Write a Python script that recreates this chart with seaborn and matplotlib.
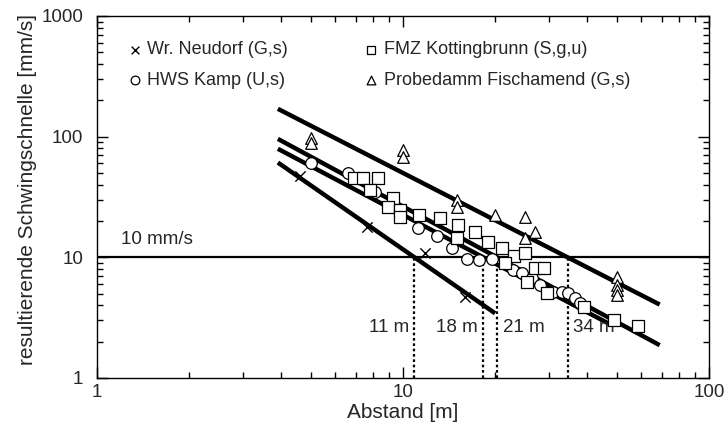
import numpy as np
import pandas as pd
import matplotlib
matplotlib.use("Agg")
import matplotlib.pyplot as plt
from matplotlib.ticker import LogLocator, FuncFormatter, NullFormatter
import seaborn as sns

# ---------------- data ----------------
neudorf_d = [4.6, 7.6, 11.8, 16.0]
neudorf_v = [47, 18, 10.9, 4.7]

kamp_d = [5.0, 6.6, 8.1, 11.2, 12.9, 14.5, 16.2, 17.7, 19.5, 22.9, 24.5, 26.4,
          28.0, 30.9, 33.0, 34.6, 36.5, 38.0]
kamp_v = [61, 50, 35, 17.6, 15.1, 12.0, 9.7, 9.5, 9.7, 7.9, 7.4, 6.8,
          5.9, 5.2, 5.2, 5.1, 4.6, 4.2]

kotting_d = [6.9, 7.4, 8.3, 7.8, 9.3, 8.9, 9.8, 9.8, 11.3, 13.2, 15.1, 17.2,
             15.0, 19.0, 21.0, 23.0, 25.0, 21.6, 27.0, 29.0, 25.4, 29.5,
             39.0, 49.0, 58.6]
kotting_v = [45.7, 45.7, 45.7, 36, 31, 26, 24.5, 21.5, 22.5, 21.2, 18.6, 16.3,
             14.5, 13.4, 12.0, 10.3, 10.9, 9.0, 8.2, 8.2, 6.3, 5.1,
             3.9, 3.0, 2.7]

probe_d = [5, 5, 10, 10, 15, 15, 20, 25, 27, 25, 50, 50, 50, 50]
probe_v = [98, 89, 78, 68, 30, 26, 22.5, 21.7, 16.3, 14.5, 6.9, 5.9, 5.4, 4.9]

site_labels = ["Wr. Neudorf (G,s)", "HWS Kamp (U,s)",
               "FMZ Kottingbrunn (S,g,u)", "Probedamm Fischamend (G,s)"]

# regression lines v = 10 * (d / d10) ** (-b)
line_d10 = [10.9, 18.3, 20.3, 34.5]
line_b = [1.76, 1.34, 1.37, 1.30]
line_start = [3.9, 3.9, 3.9, 3.9]
line_end = [20, 48, 69, 69]

limit_v = 10
limit_label = "10 mm/s"
cross_labels = ["11 m", "18 m", "21 m", "34 m"]

x_ticks = [1, 10, 100]
y_ticks = [1, 10, 100, 1000]

# ---------------- plot ----------------
sns.set_style("ticks")
plt.rcParams["font.family"] = ["Liberation Sans", "DejaVu Sans"]

fig = plt.figure(figsize=(7.25, 4.26), dpi=100)
ax = fig.add_axes([97 / 725, 1 - 378 / 426, 612 / 725, 362 / 426])
ax.set_xscale("log")
ax.set_yscale("log")

# limit line and crossing markers
ax.axhline(limit_v, color="black", lw=1.6, zorder=1)
ax.text(1.2, 14, limit_label, fontsize=13.5, va="center", ha="left")
ax.vlines(line_d10, 1, limit_v, colors="black", lw=1.6,
          linestyles=(0, (1.2, 1.2)), zorder=1)
for d, lab in zip(line_d10, cross_labels):
    right = d < 19
    ax.annotate(lab, xy=(d, 2.6), xytext=(-4 if right else 4, 0),
                textcoords="offset points", fontsize=13.5, va="center",
                ha="right" if right else "left")

# regression lines
for d10, b, d0, d1 in zip(line_d10, line_b, line_start, line_end):
    dd = np.array([d0, d1])
    vv = limit_v * (dd / d10) ** (-b)
    sns.lineplot(x=dd, y=vv, color="black", lw=3.2, ax=ax, zorder=2,
                 solid_capstyle="butt")

# scatter
sns.scatterplot(x=neudorf_d, y=neudorf_v, marker="x", color="black", s=55,
                linewidth=1.0, ax=ax, label=site_labels[0], zorder=3)
sns.scatterplot(x=kamp_d, y=kamp_v, marker="o", facecolor="white",
                edgecolor="black", s=70, linewidth=0.9, ax=ax,
                label=site_labels[1], zorder=3)
sns.scatterplot(x=kotting_d, y=kotting_v, marker="s", facecolor="white",
                edgecolor="black", s=65, linewidth=0.9, ax=ax,
                label=site_labels[2], zorder=4)
sns.scatterplot(x=probe_d, y=probe_v, marker="^", facecolor="white",
                edgecolor="black", s=70, linewidth=0.9, ax=ax,
                label=site_labels[3], zorder=4)

ax.set_xlim(1, 100)
ax.set_ylim(1, 1000)
ax.xaxis.set_minor_locator(LogLocator(base=10, subs=np.arange(2, 10), numticks=20))
ax.yaxis.set_minor_locator(LogLocator(base=10, subs=np.arange(2, 10), numticks=20))
ax.set_xticks(x_ticks)
ax.set_yticks(y_ticks)
fmt = FuncFormatter(lambda v, p: f"{v:g}")
ax.xaxis.set_major_formatter(fmt)
ax.yaxis.set_major_formatter(fmt)
ax.xaxis.set_minor_formatter(NullFormatter())
ax.yaxis.set_minor_formatter(NullFormatter())

ax.tick_params(which="both", direction="in", top=True, right=True,
               width=1.0, color="black", labelsize=13.5)
ax.tick_params(which="major", length=8)
ax.tick_params(which="minor", length=4.5)
ax.tick_params(axis="x", pad=4)
ax.tick_params(axis="y", pad=10)
for sp in ax.spines.values():
    sp.set_linewidth(1.0)
    sp.set_color("black")

ax.set_xlabel("Abstand [m]", fontsize=15, labelpad=2)
ax.set_ylabel("resultierende Schwingschnelle [mm/s]", fontsize=15)
ax.yaxis.set_label_coords(-0.098, 0.52)

# legend: column-wise order Neudorf, Kamp | Kottingbrunn, Probedamm
handles, labels = ax.get_legend_handles_labels()
leg = ax.legend(handles, labels, ncol=2, loc="upper left",
                bbox_to_anchor=(0.05, 0.93), frameon=False, fontsize=13,
                handlelength=0.8, handletextpad=0.3, columnspacing=4.2,
                labelspacing=0.75, borderpad=0, borderaxespad=0,
                markerscale=0.75)

fig.savefig("out.png", dpi=100)
